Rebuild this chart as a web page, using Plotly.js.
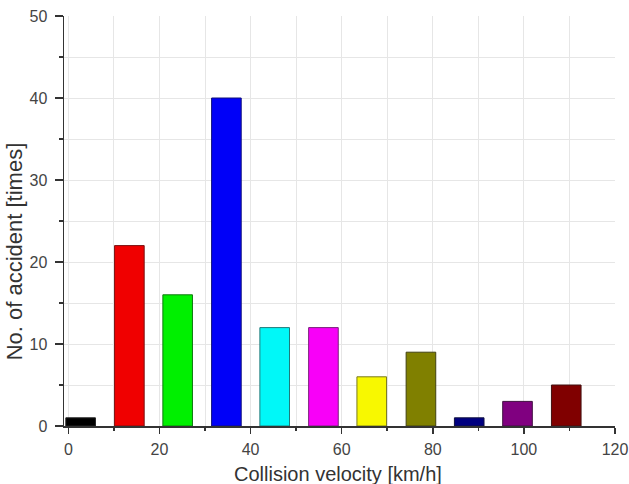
<!DOCTYPE html>
<html>
<head>
<meta charset="utf-8">
<script src="https://cdn.plot.ly/plotly-3.0.1.min.js"></script>
<style>html,body{margin:0;padding:0;background:#fff;}#chart{width:629px;height:484px;}</style>
</head>
<body>
<div id="chart"></div>
<script>
var velocity = [2.7, 13.4, 24.0, 34.7, 45.3, 56.0, 66.6, 77.4, 88.0, 98.6, 109.3];
var accidents = [1, 22, 16, 40, 12, 12, 6, 9, 1, 3, 5];
var barColors = ['#000000', '#f00000', '#00f000', '#0000f8', '#00f8f8', '#f800f8', '#f8f800', '#808000', '#000080', '#800080', '#800000'];
var lineColors = ['#222222', '#7a1010', '#107a10', '#10107a', '#207a7a', '#7a207a', '#7a7a20', '#404010', '#101040', '#401040', '#401010'];
var xTicks = [0, 20, 40, 60, 80, 100, 120];
var yTicks = [0, 10, 20, 30, 40, 50];
var xTitle = 'Collision velocity [km/h]';
var yTitle = 'No. of accident [times]';

var trace = {
  type: 'bar',
  x: velocity,
  y: accidents,
  width: 6.5,
  marker: {color: barColors, line: {color: lineColors, width: 1}},
  hoverinfo: 'x+y'
};

var layout = {
  width: 629, height: 484,
  margin: {l: 64, r: 14, t: 16, b: 58},
  paper_bgcolor: '#ffffff', plot_bgcolor: '#ffffff',
  showlegend: false,
  font: {family: 'Liberation Sans, Arial, sans-serif', color: '#333333', size: 16},
  xaxis: {
    range: [-0.95, 120],
    tickmode: 'array', tickvals: xTicks, ticktext: xTicks.map(String),
    ticks: 'outside', ticklen: 6, tickwidth: 1.5, tickcolor: '#333333',
    showline: true, linecolor: '#333333', linewidth: 1.5,
    showgrid: true, gridcolor: '#e6e6e6', gridwidth: 1,
    zeroline: false,
    minor: {dtick: 10, tick0: 0, ticks: 'outside', ticklen: 3, tickcolor: '#333333', showgrid: true, gridcolor: '#e6e6e6'},
    tickfont: {size: 16, color: '#444444'},
    ticklabelstandoff: 2
  },
  yaxis: {
    range: [0, 50],
    tickmode: 'array', tickvals: yTicks, ticktext: yTicks.map(String),
    ticks: 'outside', ticklen: 8, tickwidth: 1.5, tickcolor: '#333333',
    showline: true, linecolor: '#333333', linewidth: 1.5,
    showgrid: true, gridcolor: '#e6e6e6', gridwidth: 1,
    zeroline: false,
    minor: {dtick: 5, tick0: 0, ticks: 'outside', ticklen: 4, tickcolor: '#333333', showgrid: true, gridcolor: '#e6e6e6'},
    tickfont: {size: 16, color: '#444444'},
    ticklabelstandoff: 4
  },
  annotations: [
    {text: xTitle, xref: 'paper', yref: 'paper', x: 0.497, y: -0.1166, xanchor: 'center', yanchor: 'middle',
     showarrow: false, font: {size: 20, color: '#333333'}},
    {text: yTitle, xref: 'paper', yref: 'paper', x: -0.0907, y: 0.426, xanchor: 'center', yanchor: 'middle',
     textangle: -90, showarrow: false, font: {size: 22, color: '#333333'}}
  ]
};

Plotly.newPlot('chart', [trace], layout, {displayModeBar: false, staticPlot: true});
</script>
</body>
</html>
